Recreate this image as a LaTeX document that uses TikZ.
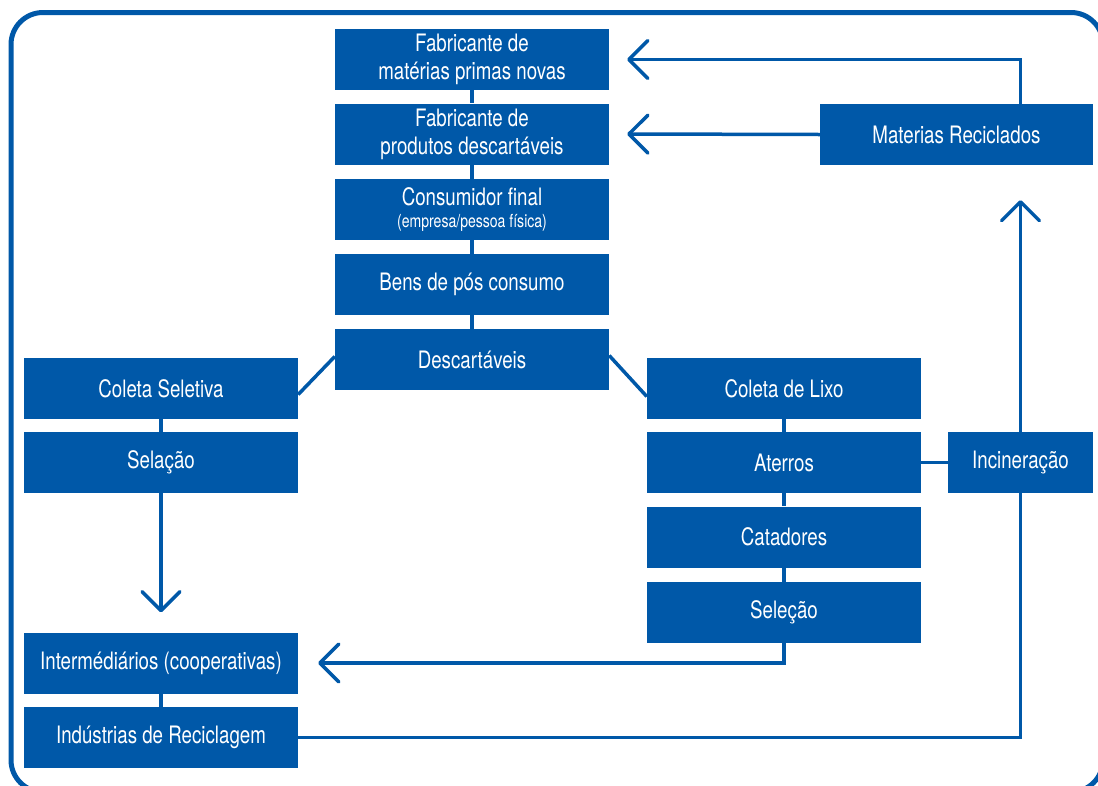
\documentclass[tikz,border=0pt]{standalone}
\usepackage{fontspec}
\setmainfont{TeX Gyre Heros}[FakeStretch=0.78]
\usetikzlibrary{arrows.meta}
\definecolor{bl}{RGB}{0,88,168}
\tikzset{
  box/.style={fill=bl, text=white, minimum width=274pt, minimum height=61pt, inner sep=0pt, align=center, font=\fontsize{24}{28}\selectfont},
  conn/.style={draw=bl, line width=3.5pt},
  arr/.style={conn, -{Straight Barb[length=19pt, width=38pt, round]}},
}
\begin{document}
\begin{tikzpicture}[x=1pt, y=-1pt]
\useasboundingbox (0,0) rectangle (1098,785);
\begin{scope}
\clip (0,0) rectangle (1098,785);
\draw[bl, line width=5pt, rounded corners=32pt] (11,12.5) rectangle (1103,792);
\end{scope}
\node[box] (fm) at (472,59.5) {Fabricante de\\matérias primas novas};
\node[box] (fp) at (472,134) {Fabricante de\\produtos descartáveis};
\node[box] (cf) at (472,209.5) {Consumidor final\\[-6pt]{\fontsize{18}{19}\selectfont (empresa/pessoa física)}};
\node[box] (bp) at (472,284.5) {Bens de pós consumo};
\node[box] (de) at (472,359.5) {Descartáveis};
\node[box] (cs) at (161,388.5) {Coleta Seletiva};
\node[box] (sl) at (161,462.5) {Selação};
\node[box] (im) at (161,663) {Intermédiários (cooperativas)};
\node[box] (ir) at (161,737.5) {Indústrias de Reciclagem};
\node[box] (cl) at (784,388.5) {Coleta de Lixo};
\node[box] (at) at (784,462.5) {Aterros};
\node[box] (ca) at (784,537) {Catadores};
\node[box] (se) at (784,612.5) {Seleção};
\node[box, minimum width=145pt] (in) at (1020.5,462.5) {Incineração};
\node[box, minimum width=273pt] (mr) at (956.5,134.5) {Materias Reciclados};
\coordinate (up) at (1020.5,200);
% central chain
\draw[conn] (fm) -- (fp);
\draw[conn] (fp) -- (cf);
\draw[conn] (cf) -- (bp);
\draw[conn] (bp) -- (de);
\draw[conn] ([yshift=3pt]de.west) -- ([yshift=-6pt]cs.east);
\draw[conn] ([yshift=4pt]de.east) -- ([yshift=-8pt]cl.west);
% left chain
\draw[conn] (cs) -- (sl);
\draw[arr] (sl.south) -- ([yshift=20pt]im.north);
\draw[conn] (im) -- (ir);
% right chain
\draw[conn] (cl) -- (at);
\draw[conn] (at) -- (ca);
\draw[conn] (ca) -- (se);
\draw[arr] (se.south) |- ([xshift=20pt]im.east);
\draw[conn] (at.east) -- (in.west);
\draw[arr] (in.north) -- (up);
\draw[conn] (in.south) |- (ir.east);
\draw[arr] (in.north |- mr.north) |- ([xshift=18pt]fm.east);
\draw[arr] (mr.west) -- ([xshift=18pt]fp.east);
\end{tikzpicture}
\end{document}
